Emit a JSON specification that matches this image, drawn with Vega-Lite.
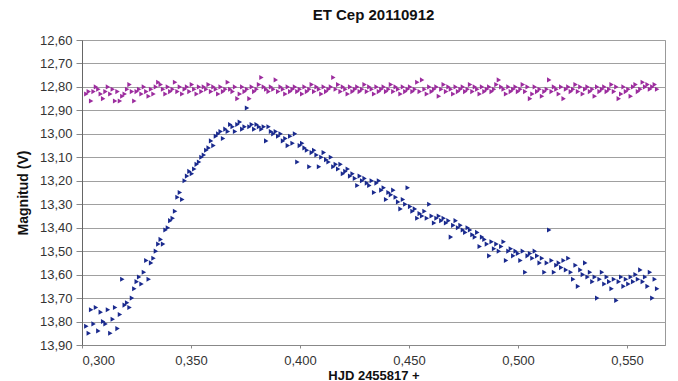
{
  "$schema": "https://vega.github.io/schema/vega-lite/v6.json",
  "autosize": "none",
  "width": 583,
  "height": 305,
  "padding": {"left": 82, "top": 40, "right": 13, "bottom": 36},
  "background": "white",
  "config": {
    "locale": {"number": {"decimal": ",", "thousands": ".", "grouping": [3], "currency": ["", " €"]}},
    "font": "Liberation Sans",
    "view": {"stroke": "#999999", "strokeWidth": 1},
    "axis": {"labelFont": "Liberation Sans", "titleFont": "Liberation Sans", "labelColor": "#333333", "titleColor": "#111111"}
  },
  "title": {"text": "ET Cep 20110912", "fontSize": 15, "fontWeight": "bold", "font": "Liberation Sans", "color": "#111111", "anchor": "middle", "offset": 11},
  "data": {"values": [
    {"hjd":0.3020,"var":13.82,"comp":12.83},{"hjd":0.3031,"var":13.85,"comp":12.82},{"hjd":0.3042,"var":13.75,"comp":12.86},{"hjd":0.3053,"var":13.81,"comp":12.82},{"hjd":0.3064,"var":13.74,"comp":12.80},
    {"hjd":0.3075,"var":13.84,"comp":12.81},{"hjd":0.3086,"var":13.76,"comp":12.83},{"hjd":0.3097,"var":13.80,"comp":12.85},{"hjd":0.3108,"var":13.81,"comp":12.82},{"hjd":0.3119,"var":13.75,"comp":12.80},
    {"hjd":0.3130,"var":13.85,"comp":12.83},{"hjd":0.3141,"var":13.79,"comp":12.81},{"hjd":0.3152,"var":13.74,"comp":12.86},{"hjd":0.3163,"var":13.83,"comp":12.82},{"hjd":0.3174,"var":13.77,"comp":12.86},
    {"hjd":0.3185,"var":13.62,"comp":12.84},{"hjd":0.3196,"var":13.73,"comp":12.83},{"hjd":0.3207,"var":13.72,"comp":12.81},{"hjd":0.3218,"var":13.74,"comp":12.79},{"hjd":0.3229,"var":13.70,"comp":12.82},
    {"hjd":0.3240,"var":13.66,"comp":12.86},{"hjd":0.3251,"var":13.63,"comp":12.82},{"hjd":0.3262,"var":13.61,"comp":12.81},{"hjd":0.3273,"var":13.64,"comp":12.83},{"hjd":0.3284,"var":13.59,"comp":12.80},
    {"hjd":0.3295,"var":13.54,"comp":12.82},{"hjd":0.3306,"var":13.62,"comp":12.84},{"hjd":0.3317,"var":13.55,"comp":12.81},{"hjd":0.3328,"var":13.53,"comp":12.83},{"hjd":0.3339,"var":13.50,"comp":12.80},
    {"hjd":0.3350,"var":13.47,"comp":12.78},{"hjd":0.3361,"var":13.45,"comp":12.79},{"hjd":0.3372,"var":13.47,"comp":12.81},{"hjd":0.3383,"var":13.41,"comp":12.83},{"hjd":0.3394,"var":13.40,"comp":12.80},
    {"hjd":0.3405,"var":13.37,"comp":12.82},{"hjd":0.3416,"var":13.36,"comp":12.81},{"hjd":0.3427,"var":13.33,"comp":12.78},{"hjd":0.3438,"var":13.27,"comp":12.82},{"hjd":0.3449,"var":13.25,"comp":12.80},
    {"hjd":0.3460,"var":13.28,"comp":12.83},{"hjd":0.3471,"var":13.20,"comp":12.81},{"hjd":0.3482,"var":13.18,"comp":12.80},{"hjd":0.3493,"var":13.16,"comp":12.82},{"hjd":0.3504,"var":13.17,"comp":12.79},
    {"hjd":0.3515,"var":13.15,"comp":12.81},{"hjd":0.3526,"var":13.13,"comp":12.83},{"hjd":0.3537,"var":13.12,"comp":12.80},{"hjd":0.3548,"var":13.10,"comp":12.82},{"hjd":0.3559,"var":13.09,"comp":12.80},
    {"hjd":0.3570,"var":13.07,"comp":12.81},{"hjd":0.3581,"var":13.06,"comp":12.79},{"hjd":0.3592,"var":13.03,"comp":12.82},{"hjd":0.3603,"var":13.05,"comp":12.80},{"hjd":0.3614,"var":13.01,"comp":12.81},
    {"hjd":0.3625,"var":13.00,"comp":12.83},{"hjd":0.3636,"var":12.99,"comp":12.80},{"hjd":0.3647,"var":13.02,"comp":12.82},{"hjd":0.3658,"var":12.98,"comp":12.81},{"hjd":0.3669,"var":12.99,"comp":12.78},
    {"hjd":0.3680,"var":12.96,"comp":12.81},{"hjd":0.3691,"var":12.97,"comp":12.82},{"hjd":0.3702,"var":12.99,"comp":12.80},{"hjd":0.3713,"var":12.96,"comp":12.85},{"hjd":0.3724,"var":12.95,"comp":12.83},
    {"hjd":0.3735,"var":12.98,"comp":12.80},{"hjd":0.3746,"var":12.97,"comp":12.82},{"hjd":0.3757,"var":12.89,"comp":12.81},{"hjd":0.3768,"var":12.97,"comp":12.85},{"hjd":0.3779,"var":12.96,"comp":12.80},
    {"hjd":0.3790,"var":12.98,"comp":12.82},{"hjd":0.3801,"var":12.96,"comp":12.81},{"hjd":0.3812,"var":12.97,"comp":12.79},{"hjd":0.3823,"var":12.98,"comp":12.76},{"hjd":0.3834,"var":12.97,"comp":12.80},
    {"hjd":0.3845,"var":13.03,"comp":12.81},{"hjd":0.3856,"var":12.97,"comp":12.82},{"hjd":0.3867,"var":12.99,"comp":12.80},{"hjd":0.3878,"var":13.00,"comp":12.81},{"hjd":0.3889,"var":12.99,"comp":12.77},
    {"hjd":0.3900,"var":13.01,"comp":12.82},{"hjd":0.3911,"var":13.00,"comp":12.80},{"hjd":0.3922,"var":13.03,"comp":12.81},{"hjd":0.3933,"var":13.02,"comp":12.83},{"hjd":0.3944,"var":13.05,"comp":12.80},
    {"hjd":0.3955,"var":13.01,"comp":12.82},{"hjd":0.3966,"var":13.04,"comp":12.81},{"hjd":0.3977,"var":13.00,"comp":12.80},{"hjd":0.3988,"var":13.12,"comp":12.82},{"hjd":0.3999,"var":13.05,"comp":12.81},
    {"hjd":0.4010,"var":13.04,"comp":12.83},{"hjd":0.4021,"var":13.06,"comp":12.80},{"hjd":0.4032,"var":13.07,"comp":12.82},{"hjd":0.4043,"var":13.14,"comp":12.81},{"hjd":0.4054,"var":13.08,"comp":12.79},
    {"hjd":0.4065,"var":13.07,"comp":12.82},{"hjd":0.4076,"var":13.09,"comp":12.80},{"hjd":0.4087,"var":13.14,"comp":12.81},{"hjd":0.4098,"var":13.10,"comp":12.83},{"hjd":0.4109,"var":13.08,"comp":12.80},
    {"hjd":0.4120,"var":13.11,"comp":12.82},{"hjd":0.4131,"var":13.12,"comp":12.81},{"hjd":0.4142,"var":13.10,"comp":12.80},{"hjd":0.4153,"var":13.14,"comp":12.76},{"hjd":0.4164,"var":13.13,"comp":12.81},
    {"hjd":0.4175,"var":13.15,"comp":12.79},{"hjd":0.4186,"var":13.13,"comp":12.82},{"hjd":0.4197,"var":13.17,"comp":12.80},{"hjd":0.4208,"var":13.16,"comp":12.81},{"hjd":0.4219,"var":13.15,"comp":12.83},
    {"hjd":0.4230,"var":13.18,"comp":12.80},{"hjd":0.4241,"var":13.17,"comp":12.82},{"hjd":0.4252,"var":13.19,"comp":12.81},{"hjd":0.4263,"var":13.22,"comp":12.80},{"hjd":0.4274,"var":13.18,"comp":12.82},
    {"hjd":0.4285,"var":13.20,"comp":12.81},{"hjd":0.4296,"var":13.19,"comp":12.79},{"hjd":0.4307,"var":13.21,"comp":12.82},{"hjd":0.4318,"var":13.22,"comp":12.80},{"hjd":0.4329,"var":13.20,"comp":12.81},
    {"hjd":0.4340,"var":13.25,"comp":12.83},{"hjd":0.4351,"var":13.21,"comp":12.80},{"hjd":0.4362,"var":13.20,"comp":12.82},{"hjd":0.4373,"var":13.24,"comp":12.81},{"hjd":0.4384,"var":13.23,"comp":12.80},
    {"hjd":0.4395,"var":13.28,"comp":12.82},{"hjd":0.4406,"var":13.25,"comp":12.81},{"hjd":0.4417,"var":13.26,"comp":12.79},{"hjd":0.4428,"var":13.24,"comp":12.82},{"hjd":0.4439,"var":13.27,"comp":12.80},
    {"hjd":0.4450,"var":13.29,"comp":12.81},{"hjd":0.4461,"var":13.32,"comp":12.83},{"hjd":0.4472,"var":13.28,"comp":12.80},{"hjd":0.4483,"var":13.30,"comp":12.82},{"hjd":0.4494,"var":13.23,"comp":12.81},
    {"hjd":0.4505,"var":13.31,"comp":12.80},{"hjd":0.4516,"var":13.33,"comp":12.82},{"hjd":0.4527,"var":13.32,"comp":12.81},{"hjd":0.4538,"var":13.36,"comp":12.78},{"hjd":0.4549,"var":13.34,"comp":12.82},
    {"hjd":0.4560,"var":13.35,"comp":12.77},{"hjd":0.4571,"var":13.33,"comp":12.81},{"hjd":0.4582,"var":13.36,"comp":12.83},{"hjd":0.4593,"var":13.30,"comp":12.80},{"hjd":0.4604,"var":13.35,"comp":12.82},
    {"hjd":0.4615,"var":13.38,"comp":12.81},{"hjd":0.4626,"var":13.36,"comp":12.80},{"hjd":0.4637,"var":13.35,"comp":12.84},{"hjd":0.4648,"var":13.37,"comp":12.81},{"hjd":0.4659,"var":13.36,"comp":12.79},
    {"hjd":0.4670,"var":13.38,"comp":12.82},{"hjd":0.4681,"var":13.37,"comp":12.80},{"hjd":0.4692,"var":13.44,"comp":12.81},{"hjd":0.4703,"var":13.39,"comp":12.83},{"hjd":0.4714,"var":13.37,"comp":12.80},
    {"hjd":0.4725,"var":13.40,"comp":12.82},{"hjd":0.4736,"var":13.39,"comp":12.81},{"hjd":0.4747,"var":13.41,"comp":12.80},{"hjd":0.4758,"var":13.42,"comp":12.82},{"hjd":0.4769,"var":13.40,"comp":12.81},
    {"hjd":0.4780,"var":13.41,"comp":12.79},{"hjd":0.4791,"var":13.43,"comp":12.82},{"hjd":0.4802,"var":13.44,"comp":12.80},{"hjd":0.4813,"var":13.42,"comp":12.81},{"hjd":0.4824,"var":13.48,"comp":12.83},
    {"hjd":0.4835,"var":13.44,"comp":12.80},{"hjd":0.4846,"var":13.45,"comp":12.82},{"hjd":0.4857,"var":13.47,"comp":12.81},{"hjd":0.4868,"var":13.52,"comp":12.80},{"hjd":0.4879,"var":13.46,"comp":12.82},
    {"hjd":0.4890,"var":13.49,"comp":12.81},{"hjd":0.4901,"var":13.47,"comp":12.79},{"hjd":0.4912,"var":13.50,"comp":12.77},{"hjd":0.4923,"var":13.48,"comp":12.80},{"hjd":0.4934,"var":13.46,"comp":12.81},
    {"hjd":0.4945,"var":13.54,"comp":12.83},{"hjd":0.4956,"var":13.50,"comp":12.80},{"hjd":0.4967,"var":13.49,"comp":12.82},{"hjd":0.4978,"var":13.52,"comp":12.81},{"hjd":0.4989,"var":13.50,"comp":12.80},
    {"hjd":0.5000,"var":13.51,"comp":12.82},{"hjd":0.5011,"var":13.54,"comp":12.81},{"hjd":0.5022,"var":13.50,"comp":12.79},{"hjd":0.5033,"var":13.59,"comp":12.82},{"hjd":0.5044,"var":13.52,"comp":12.80},
    {"hjd":0.5055,"var":13.51,"comp":12.85},{"hjd":0.5066,"var":13.53,"comp":12.83},{"hjd":0.5077,"var":13.50,"comp":12.80},{"hjd":0.5088,"var":13.52,"comp":12.82},{"hjd":0.5099,"var":13.55,"comp":12.81},
    {"hjd":0.5110,"var":13.53,"comp":12.84},{"hjd":0.5121,"var":13.59,"comp":12.82},{"hjd":0.5132,"var":13.55,"comp":12.81},{"hjd":0.5143,"var":13.41,"comp":12.77},{"hjd":0.5154,"var":13.54,"comp":12.82},
    {"hjd":0.5165,"var":13.59,"comp":12.80},{"hjd":0.5176,"var":13.56,"comp":12.81},{"hjd":0.5187,"var":13.55,"comp":12.83},{"hjd":0.5198,"var":13.57,"comp":12.80},{"hjd":0.5209,"var":13.54,"comp":12.85},
    {"hjd":0.5220,"var":13.58,"comp":12.81},{"hjd":0.5231,"var":13.53,"comp":12.80},{"hjd":0.5242,"var":13.59,"comp":12.82},{"hjd":0.5253,"var":13.62,"comp":12.81},{"hjd":0.5264,"var":13.56,"comp":12.79},
    {"hjd":0.5275,"var":13.65,"comp":12.82},{"hjd":0.5286,"var":13.58,"comp":12.80},{"hjd":0.5297,"var":13.60,"comp":12.83},{"hjd":0.5308,"var":13.55,"comp":12.81},{"hjd":0.5319,"var":13.61,"comp":12.80},
    {"hjd":0.5330,"var":13.59,"comp":12.82},{"hjd":0.5341,"var":13.63,"comp":12.81},{"hjd":0.5352,"var":13.61,"comp":12.84},{"hjd":0.5363,"var":13.70,"comp":12.80},{"hjd":0.5374,"var":13.62,"comp":12.82},
    {"hjd":0.5385,"var":13.59,"comp":12.81},{"hjd":0.5396,"var":13.64,"comp":12.80},{"hjd":0.5407,"var":13.61,"comp":12.82},{"hjd":0.5418,"var":13.63,"comp":12.81},{"hjd":0.5429,"var":13.66,"comp":12.79},
    {"hjd":0.5440,"var":13.62,"comp":12.82},{"hjd":0.5451,"var":13.71,"comp":12.80},{"hjd":0.5462,"var":13.63,"comp":12.85},{"hjd":0.5473,"var":13.61,"comp":12.83},{"hjd":0.5484,"var":13.65,"comp":12.80},
    {"hjd":0.5495,"var":13.62,"comp":12.82},{"hjd":0.5506,"var":13.64,"comp":12.81},{"hjd":0.5517,"var":13.61,"comp":12.84},{"hjd":0.5528,"var":13.63,"comp":12.80},{"hjd":0.5539,"var":13.60,"comp":12.79},
    {"hjd":0.5550,"var":13.62,"comp":12.82},{"hjd":0.5561,"var":13.58,"comp":12.81},{"hjd":0.5572,"var":13.63,"comp":12.78},{"hjd":0.5583,"var":13.61,"comp":12.80},{"hjd":0.5594,"var":13.65,"comp":12.79},
    {"hjd":0.5605,"var":13.59,"comp":12.81},{"hjd":0.5616,"var":13.70,"comp":12.80},{"hjd":0.5627,"var":13.62,"comp":12.79},{"hjd":0.5638,"var":13.66,"comp":12.81}
  ]},
  "transform": [{"fold": ["comp", "var"], "as": ["serie", "mag"]}],
  "mark": {"type": "point", "shape": "triangle-right", "filled": true, "size": 26, "opacity": 1},
  "encoding": {
    "x": {
      "field": "hjd", "type": "quantitative",
      "scale": {"domain": [0.3, 0.5674], "nice": false, "zero": false},
      "axis": {
        "values": [0.30, 0.35, 0.40, 0.45, 0.50, 0.55], "format": ".3f",
        "title": "HJD 2455817 +", "titleFontSize": 13, "titleFontWeight": "bold", "titlePadding": 2,
        "labelFontSize": 13, "labelPadding": 6, "tickSize": 3, "tickColor": "#888888",
        "domainColor": "#888888", "grid": false
      }
    },
    "y": {
      "field": "mag", "type": "quantitative",
      "scale": {"domain": [12.6, 13.9], "reverse": true, "nice": false, "zero": false},
      "axis": {
        "values": [12.6, 12.7, 12.8, 12.9, 13.0, 13.1, 13.2, 13.3, 13.4, 13.5, 13.6, 13.7, 13.8, 13.9],
        "format": ".2f", "title": "Magnitud (V)", "titleFontSize": 14, "titleFontWeight": "bold", "titlePadding": 9,
        "labelFontSize": 13, "labelPadding": 4, "tickSize": 6, "tickColor": "#888888",
        "domainColor": "#666666", "grid": true, "gridColor": "#a0a0a0", "gridWidth": 1
      }
    },
    "color": {
      "field": "serie", "type": "nominal",
      "scale": {"domain": ["comp", "var"], "range": ["#9c2c9e", "#1a2a8e"]},
      "legend": null
    }
  }
}
